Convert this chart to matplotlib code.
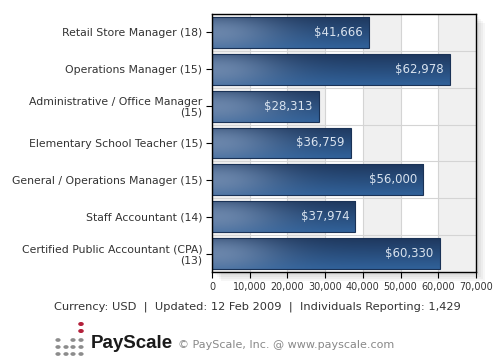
import numpy as np
import matplotlib
matplotlib.use('agg')
import matplotlib.pyplot as plt
from matplotlib.patches import Rectangle, Circle

jobs = ['Retail Store Manager (18)',
        'Operations Manager (15)',
        'Administrative / Office Manager\n(15)',
        'Elementary School Teacher (15)',
        'General / Operations Manager (15)',
        'Staff Accountant (14)',
        'Certified Public Accountant (CPA)\n(13)']
salaries = [41666, 62978, 28313, 36759, 56000, 37974, 60330]
xticks = [0, 10000, 20000, 30000, 40000, 50000, 60000, 70000]
footer = 'Currency: USD  |  Updated: 12 Feb 2009  |  Individuals Reporting: 1,429'
credit = '\u00a9 PayScale, Inc. @ www.payscale.com'

W, H = 500, 360
fig = plt.figure(figsize=(W / 100, H / 100), dpi=100)
fig.patch.set_facecolor('white')

def px(x0, y0, w, h):
    # pixel box (top-left origin) -> figure fraction
    return [x0 / W, 1 - (y0 + h) / H, w / W, h / H]

# soft drop shadow behind the plot area
for i in range(5):
    d = 1 + i * 2
    fig.patches.append(Rectangle(((212 + d) / W, 1 - (272 + d) / H), 264 / W, 258 / H,
                                 transform=fig.transFigure, facecolor='black',
                                 alpha=0.035, edgecolor='none', zorder=0))

ax = fig.add_axes(px(212, 14, 264, 258))
ax.set_zorder(2)
ax.set_facecolor('white')
n = len(jobs)

# alternating bands and grid
for k in range(7):
    if (6 - k) % 2 == 0:
        ax.axvspan(k * 10000, (k + 1) * 10000, color='#f0f0f0', zorder=0, lw=0)
for xv in xticks[1:-1]:
    ax.axvline(xv, color='#d4d4d4', lw=0.8, zorder=1)
for yv in np.arange(0.5, n - 0.5, 1):
    ax.axhline(yv, color='#d4d4d4', lw=0.8, zorder=1)

# gradient bars
bh = 0.84
top = np.array([0.12, 0.22, 0.37])
bot = np.array([0.19, 0.38, 0.60])
hi = np.array([0.46, 0.56, 0.70])
for i, v in enumerate(salaries):
    nx, ny = 240, 40
    xs = np.linspace(0, v, nx)
    t = np.linspace(0, 1, ny)[:, None]
    base = top[None, None, :] * (1 - t[..., None]) + bot[None, None, :] * t[..., None]
    base = np.repeat(base, nx, axis=1)
    wgt = (0.85 * np.exp(-((xs - 1000) / 17000) ** 2))[None, :] * (0.55 + 0.45 * np.sin(np.pi * t))
    img = base * (1 - wgt[..., None]) + hi[None, None, :] * wgt[..., None]
    im = ax.imshow(img, extent=(0, v, i + bh / 2, i - bh / 2), aspect='auto',
                   interpolation='bilinear', zorder=3)
    r = Rectangle((0, i - bh / 2), v, bh, facecolor='none', edgecolor='#1a3256', lw=0.8, zorder=4)
    ax.add_patch(r)
    im.set_clip_path(r)
    ax.text(v - 1600, i, '${:,}'.format(v), ha='right', va='center',
            color='#d8e2ee', fontsize=8.5, zorder=5)

ax.set_xlim(0, 70000)
ax.set_ylim(n - 0.5, -0.5)
ax.set_xticks(xticks)
ax.set_xticklabels(['{:,}'.format(x) for x in xticks], fontsize=6.9, color='#333333')
ax.set_yticks(range(n))
ax.set_yticklabels(jobs, fontsize=7.8, color='#333333', linespacing=1.1)
for lbl in ax.get_yticklabels():
    lbl.set_multialignment('right')
ax.tick_params(axis='both', length=4, width=0.8, color='black', pad=3)
for s in ax.spines.values():
    s.set_linewidth(1.0)
    s.set_color('black')
    s.set_zorder(6)

fig.text(257 / W, 1 - 307 / H, footer, ha='center', va='center', fontsize=8.2, color='#333333')

# logo dots
dots_gray = [(58, 340), (73, 340), (81, 340),
             (58, 347), (66, 347), (73, 347), (81, 347),
             (58, 354), (66, 354), (73, 354), (81, 354)]
dots_red = [(81, 324), (81, 331)]
for (x, y) in dots_gray:
    fig.patches.append(Circle((x / W, 1 - y / H), 2.6 / W, transform=fig.transFigure,
                              facecolor='#8c8c8c', edgecolor='none'))
for (x, y) in dots_red:
    fig.patches.append(Circle((x / W, 1 - y / H), 2.8 / W, transform=fig.transFigure,
                              facecolor='#b3203a', edgecolor='none'))
fig.text(91 / W, 1 - 344 / H, 'PayScale', ha='left', va='center', fontsize=13.5,
         fontweight='bold', color='#1a1a1a', family='Liberation Sans')
fig.text(178 / W, 1 - 345 / H, credit, ha='left', va='center', fontsize=8, color='#888888')

fig.savefig('out.png', dpi=100, facecolor='white')
